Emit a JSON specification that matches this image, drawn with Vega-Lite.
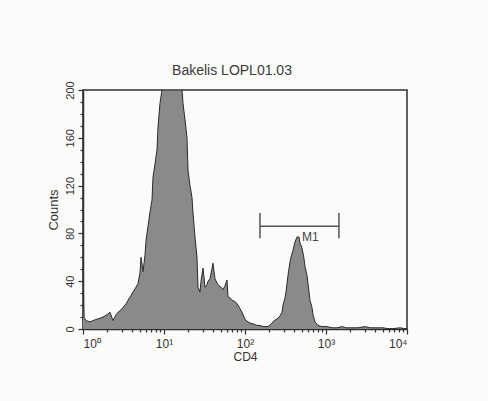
{
  "$schema": "https://vega.github.io/schema/vega-lite/v6.json",
  "width": 324,
  "height": 239,
  "autosize": {"type": "none"},
  "padding": {"left": 83, "top": 90, "right": 81, "bottom": 72},
  "background": "#fbfbfa",
  "title": {"text": "Bakelis LOPL01.03", "fontSize": 14, "fontWeight": "normal", "font": "Liberation Sans", "color": "#3a3a3a", "offset": 3, "dx": -13},
  "config": {
    "view": {"stroke": "#2e2e2e", "strokeWidth": 1.5},
    "axis": {"domainColor": "#2e2e2e", "domainWidth": 1.5, "tickColor": "#2e2e2e", "tickWidth": 1.2, "labelColor": "#333", "labelFont": "Liberation Sans", "titleFont": "Liberation Sans", "titleColor": "#333", "titleFontWeight": "normal", "grid": false}
  },
  "datasets": {
    "hist": [
      {"cd4": 1.0, "count": 51}, {"cd4": 1.029, "count": 10}, {"cd4": 1.089, "count": 7}, {"cd4": 1.22, "count": 6},
      {"cd4": 1.329, "count": 7}, {"cd4": 1.447, "count": 8}, {"cd4": 1.621, "count": 9}, {"cd4": 1.766, "count": 10},
      {"cd4": 1.978, "count": 12}, {"cd4": 2.154, "count": 14}, {"cd4": 2.346, "count": 7}, {"cd4": 2.556, "count": 12},
      {"cd4": 2.705, "count": 14}, {"cd4": 2.945, "count": 16}, {"cd4": 3.118, "count": 18}, {"cd4": 3.396, "count": 21},
      {"cd4": 3.594, "count": 24}, {"cd4": 3.914, "count": 28}, {"cd4": 4.143, "count": 31}, {"cd4": 4.511, "count": 35},
      {"cd4": 4.775, "count": 38}, {"cd4": 5.054, "count": 47}, {"cd4": 5.2, "count": 60}, {"cd4": 5.505, "count": 48},
      {"cd4": 5.827, "count": 62}, {"cd4": 5.995, "count": 74}, {"cd4": 6.346, "count": 86}, {"cd4": 6.717, "count": 98},
      {"cd4": 7.11, "count": 108}, {"cd4": 7.314, "count": 127}, {"cd4": 7.743, "count": 138}, {"cd4": 8.195, "count": 150},
      {"cd4": 8.432, "count": 169}, {"cd4": 8.925, "count": 189}, {"cd4": 9.447, "count": 200}, {"cd4": 10.29, "count": 200},
      {"cd4": 11.86, "count": 200}, {"cd4": 13.67, "count": 200}, {"cd4": 15.76, "count": 200}, {"cd4": 16.68, "count": 200},
      {"cd4": 17.16, "count": 189}, {"cd4": 18.17, "count": 175}, {"cd4": 19.23, "count": 160}, {"cd4": 19.79, "count": 133},
      {"cd4": 20.94, "count": 120}, {"cd4": 22.17, "count": 110}, {"cd4": 22.8, "count": 97}, {"cd4": 24.14, "count": 77},
      {"cd4": 25.55, "count": 60}, {"cd4": 26.29, "count": 35}, {"cd4": 27.83, "count": 31}, {"cd4": 28.63, "count": 40},
      {"cd4": 30.3, "count": 51}, {"cd4": 32.08, "count": 35}, {"cd4": 33.96, "count": 37}, {"cd4": 34.94, "count": 40},
      {"cd4": 36.98, "count": 42}, {"cd4": 40.27, "count": 55}, {"cd4": 42.62, "count": 42}, {"cd4": 46.42, "count": 37},
      {"cd4": 50.54, "count": 35}, {"cd4": 53.5, "count": 33}, {"cd4": 56.63, "count": 36}, {"cd4": 59.95, "count": 41},
      {"cd4": 61.67, "count": 27}, {"cd4": 65.28, "count": 26}, {"cd4": 69.1, "count": 24}, {"cd4": 75.25, "count": 23},
      {"cd4": 81.95, "count": 20}, {"cd4": 86.75, "count": 17}, {"cd4": 91.83, "count": 14}, {"cd4": 100, "count": 8},
      {"cd4": 108.9, "count": 6}, {"cd4": 115.3, "count": 5}, {"cd4": 129.2, "count": 4}, {"cd4": 140.7, "count": 3},
      {"cd4": 153.2, "count": 3}, {"cd4": 166.8, "count": 2}, {"cd4": 192.3, "count": 2}, {"cd4": 209.4, "count": 4},
      {"cd4": 221.7, "count": 6}, {"cd4": 241.4, "count": 8}, {"cd4": 255.5, "count": 9}, {"cd4": 270.5, "count": 11},
      {"cd4": 286.3, "count": 14}, {"cd4": 294.6, "count": 20}, {"cd4": 311.8, "count": 26}, {"cd4": 320.8, "count": 31},
      {"cd4": 339.6, "count": 45}, {"cd4": 359.4, "count": 56}, {"cd4": 369.8, "count": 60}, {"cd4": 391.4, "count": 66},
      {"cd4": 414.3, "count": 73}, {"cd4": 438.5, "count": 77}, {"cd4": 464.2, "count": 77}, {"cd4": 477.5, "count": 72},
      {"cd4": 505.4, "count": 68}, {"cd4": 535.0, "count": 59}, {"cd4": 550.5, "count": 52}, {"cd4": 582.7, "count": 45},
      {"cd4": 616.8, "count": 31}, {"cd4": 634.6, "count": 24}, {"cd4": 671.7, "count": 18}, {"cd4": 691.1, "count": 12},
      {"cd4": 731.5, "count": 6}, {"cd4": 796.7, "count": 3}, {"cd4": 892.5, "count": 2}, {"cd4": 1029, "count": 2},
      {"cd4": 1186, "count": 1}, {"cd4": 1367, "count": 1}, {"cd4": 1576, "count": 2}, {"cd4": 1766, "count": 1},
      {"cd4": 1978, "count": 1}, {"cd4": 2484, "count": 1}, {"cd4": 3030, "count": 2}, {"cd4": 3494, "count": 1},
      {"cd4": 5054, "count": 1}, {"cd4": 6168, "count": 0}, {"cd4": 8195, "count": 1}, {"cd4": 10000, "count": 0}
    ],
    "marker": [
      {"name": "M1", "start": 153, "end": 1445, "level": 86, "low": 76, "high": 97, "labelAt": 640, "labelLevel": 77}
    ]
  },
  "resolve": {"axis": {"x": "independent", "y": "independent"}},
  "layer": [
    {
      "data": {"name": "hist"},
      "mark": {"type": "area", "color": "#8a8a8a", "opacity": 1, "clip": true, "line": {"color": "#2a2a2a", "strokeWidth": 1}},
      "encoding": {
        "x": {"field": "cd4", "type": "quantitative", "scale": {"type": "log", "domain": [1, 10000], "nice": false},
              "axis": {"orient": "bottom", "values": [1, 10, 100, 1000, 10000], "tickSize": 5, "labelFontSize": 12, "labelPadding": 4,
                       "labelExpr": "'10' + ['⁰','¹','²','³','⁴'][round(log(datum.value)/LN10)]", "title": "CD4", "titleFontSize": 12, "titlePadding": 2}},
        "y": {"field": "count", "type": "quantitative", "scale": {"domain": [0, 200], "nice": false},
              "axis": {"orient": "left", "values": [0, 40, 80, 120, 160, 200], "tickSize": 5, "labelFontSize": 11, "labelAngle": 270, "labelAlign": "center", "labelBaseline": "bottom", "labelPadding": 3,
                       "title": "Counts", "titleFontSize": 13, "titlePadding": 4}}
      }
    },
    {
      "data": {"name": "marker"},
      "mark": {"type": "rule", "color": "#555", "strokeWidth": 1.5},
      "encoding": {
        "x": {"field": "start", "type": "quantitative", "scale": {"type": "log", "domain": [1, 10000], "nice": false},
              "axis": {"orient": "bottom", "values": [2,3,4,5,6,7,8,9,20,30,40,50,60,70,80,90,200,300,400,500,600,700,800,900,2000,3000,4000,5000,6000,7000,8000,9000], "tickSize": 3, "labels": false, "domain": false, "title": null}},
        "x2": {"field": "end"},
        "y": {"field": "level", "type": "quantitative", "scale": {"domain": [0, 200], "nice": false},
              "axis": {"orient": "left", "values": [10,20,30,50,60,70,90,100,110,130,140,150,170,180,190], "tickSize": 3, "labels": false, "domain": false, "title": null}}
      }
    },
    {
      "data": {"name": "marker"},
      "mark": {"type": "rule", "color": "#555", "strokeWidth": 1.5},
      "encoding": {
        "x": {"field": "start", "type": "quantitative", "scale": {"type": "log", "domain": [1, 10000], "nice": false}, "axis": null},
        "y": {"field": "low", "type": "quantitative", "scale": {"domain": [0, 200], "nice": false}, "axis": null},
        "y2": {"field": "high"}
      }
    },
    {
      "data": {"name": "marker"},
      "mark": {"type": "rule", "color": "#555", "strokeWidth": 1.5},
      "encoding": {
        "x": {"field": "end", "type": "quantitative", "scale": {"type": "log", "domain": [1, 10000], "nice": false}, "axis": null},
        "y": {"field": "low", "type": "quantitative", "scale": {"domain": [0, 200], "nice": false}, "axis": null},
        "y2": {"field": "high"}
      }
    },
    {
      "data": {"name": "marker"},
      "mark": {"type": "text", "font": "Liberation Sans", "fontSize": 12, "color": "#444", "align": "center", "baseline": "middle"},
      "encoding": {
        "x": {"field": "labelAt", "type": "quantitative", "scale": {"type": "log", "domain": [1, 10000], "nice": false}, "axis": null},
        "y": {"field": "labelLevel", "type": "quantitative", "scale": {"domain": [0, 200], "nice": false}, "axis": null},
        "text": {"field": "name"}
      }
    }
  ]
}
